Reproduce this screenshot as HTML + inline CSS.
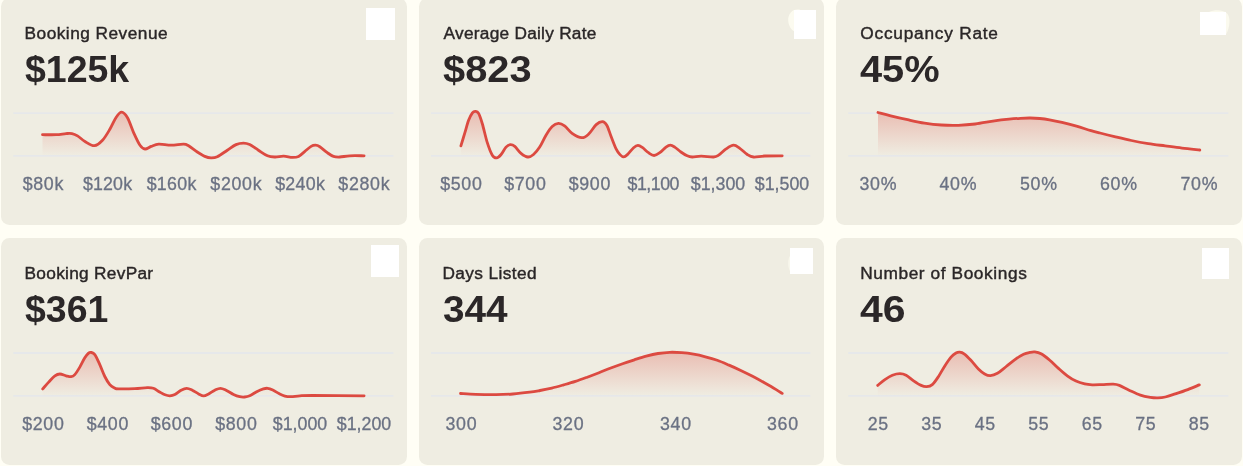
<!DOCTYPE html>
<html lang="en"><head><meta charset="utf-8"><title>Booking metrics</title>
<style>
html,body{margin:0;padding:0}
body{width:1243px;height:466px;overflow:hidden;background:#fffef5;position:relative;font-family:"Liberation Sans",sans-serif}
.card{position:absolute;background:#efede2;border-radius:8.5px;width:405.3px;height:227.0px}
.t{position:absolute;white-space:nowrap;color:#2a2627;font-size:17.3px;letter-spacing:.3px;line-height:20px;-webkit-text-stroke:.4px #2a2627}
.v{position:absolute;white-space:nowrap;color:#2b2728;font-size:36.7px;font-weight:700!important;line-height:40px;transform-origin:0 50%}
.k{position:absolute;white-space:nowrap;color:#6a7183;font-size:17.8px;letter-spacing:.7px;margin-left:.35px;line-height:20px;transform:translateX(-50%);-webkit-text-stroke:.3px #6a7183}
.b{position:absolute;background:#fff}
svg{position:absolute;left:0;top:0;overflow:visible}
h3,p{margin:0;font-weight:400}
</style></head><body>
<section class="card" style="left:1.3px;top:-2.3px;width:405.6px">
<h3 class="t" style="left:23.28px;top:24.9px;letter-spacing:0.47px">Booking Revenue</h3>
<p class="v" style="left:24.15px;top:52.7px;transform:scaleX(1.0210)">$125k</p>
<svg class="chart" style="left:-0.3px;top:-0.7px" width="407" height="228" viewBox="1 -3 407 228">
<defs><linearGradient id="g0" gradientUnits="userSpaceOnUse" x1="0" y1="111" x2="0" y2="156"><stop offset="0" stop-color="#dc4a41" stop-opacity=".30"/><stop offset="1" stop-color="#dc4a41" stop-opacity="0"/></linearGradient></defs>
<path d="M13.3,113.1H393.5M13.3,155.9H393.5" stroke="#e3e6ed" stroke-width="1.3" fill="none"/>
<path d="M42.50,134.70C44.78,134.70 52.28,134.88 56.20,134.70C60.12,134.52 63.37,133.78 66.00,133.60C68.63,133.42 70.08,133.22 72.00,133.60C73.92,133.98 75.33,134.58 77.50,135.90C79.67,137.22 82.18,139.87 85.00,141.50C87.82,143.13 91.48,145.90 94.40,145.70C97.32,145.50 99.90,143.08 102.50,140.30C105.10,137.52 107.72,132.85 110.00,129.00C112.28,125.15 114.27,120.00 116.20,117.20C118.13,114.40 119.72,112.10 121.60,112.20C123.48,112.30 125.48,114.37 127.50,117.80C129.52,121.23 131.62,128.22 133.70,132.80C135.78,137.38 138.12,142.60 140.00,145.30C141.88,148.00 143.13,148.82 145.00,149.00C146.87,149.18 148.92,147.20 151.20,146.40C153.48,145.60 155.38,144.40 158.70,144.20C162.02,144.00 166.95,145.20 171.10,145.20C175.25,145.20 180.68,144.10 183.60,144.20C186.52,144.30 186.32,144.50 188.60,145.80C190.88,147.10 194.60,150.23 197.30,152.00C200.00,153.77 202.52,155.42 204.80,156.40C207.08,157.38 208.92,157.85 211.00,157.90C213.08,157.95 214.58,157.98 217.30,156.70C220.02,155.42 224.18,152.22 227.30,150.20C230.42,148.18 233.30,145.78 236.00,144.60C238.70,143.42 241.22,143.10 243.50,143.10C245.78,143.10 247.22,143.42 249.70,144.60C252.18,145.78 255.43,148.33 258.40,150.20C261.37,152.07 264.73,154.67 267.50,155.80C270.27,156.93 272.30,156.93 275.00,157.00C277.70,157.07 280.80,156.13 283.70,156.20C286.60,156.27 289.92,157.37 292.40,157.40C294.88,157.43 296.52,157.40 298.60,156.40C300.68,155.40 302.82,153.07 304.90,151.40C306.98,149.73 309.33,147.43 311.10,146.40C312.87,145.37 314.05,145.15 315.50,145.20C316.95,145.25 317.83,145.45 319.80,146.70C321.77,147.95 325.02,151.08 327.30,152.70C329.58,154.32 331.42,155.68 333.50,156.40C335.58,157.12 337.08,157.10 339.80,157.00C342.52,156.90 345.75,156.00 349.80,155.80C353.85,155.60 361.72,155.80 364.10,155.80L364.10,156.90L42.50,156.90Z" fill="url(#g0)"/>
<path d="M42.50,134.70C44.78,134.70 52.28,134.88 56.20,134.70C60.12,134.52 63.37,133.78 66.00,133.60C68.63,133.42 70.08,133.22 72.00,133.60C73.92,133.98 75.33,134.58 77.50,135.90C79.67,137.22 82.18,139.87 85.00,141.50C87.82,143.13 91.48,145.90 94.40,145.70C97.32,145.50 99.90,143.08 102.50,140.30C105.10,137.52 107.72,132.85 110.00,129.00C112.28,125.15 114.27,120.00 116.20,117.20C118.13,114.40 119.72,112.10 121.60,112.20C123.48,112.30 125.48,114.37 127.50,117.80C129.52,121.23 131.62,128.22 133.70,132.80C135.78,137.38 138.12,142.60 140.00,145.30C141.88,148.00 143.13,148.82 145.00,149.00C146.87,149.18 148.92,147.20 151.20,146.40C153.48,145.60 155.38,144.40 158.70,144.20C162.02,144.00 166.95,145.20 171.10,145.20C175.25,145.20 180.68,144.10 183.60,144.20C186.52,144.30 186.32,144.50 188.60,145.80C190.88,147.10 194.60,150.23 197.30,152.00C200.00,153.77 202.52,155.42 204.80,156.40C207.08,157.38 208.92,157.85 211.00,157.90C213.08,157.95 214.58,157.98 217.30,156.70C220.02,155.42 224.18,152.22 227.30,150.20C230.42,148.18 233.30,145.78 236.00,144.60C238.70,143.42 241.22,143.10 243.50,143.10C245.78,143.10 247.22,143.42 249.70,144.60C252.18,145.78 255.43,148.33 258.40,150.20C261.37,152.07 264.73,154.67 267.50,155.80C270.27,156.93 272.30,156.93 275.00,157.00C277.70,157.07 280.80,156.13 283.70,156.20C286.60,156.27 289.92,157.37 292.40,157.40C294.88,157.43 296.52,157.40 298.60,156.40C300.68,155.40 302.82,153.07 304.90,151.40C306.98,149.73 309.33,147.43 311.10,146.40C312.87,145.37 314.05,145.15 315.50,145.20C316.95,145.25 317.83,145.45 319.80,146.70C321.77,147.95 325.02,151.08 327.30,152.70C329.58,154.32 331.42,155.68 333.50,156.40C335.58,157.12 337.08,157.10 339.80,157.00C342.52,156.90 345.75,156.00 349.80,155.80C353.85,155.60 361.72,155.80 364.10,155.80" fill="none" stroke="#dc4a41" stroke-width="2.8" stroke-linecap="round" stroke-linejoin="round"/>
</svg>
<span class="k" style="left:41.7px;top:176.7px">$80k</span>
<span class="k" style="left:106.2px;top:176.7px;letter-spacing:.15px;margin-left:.1px">$120k</span>
<span class="k" style="left:170.2px;top:176.7px;letter-spacing:.3px;margin-left:.15px">$160k</span>
<span class="k" style="left:234.7px;top:176.7px">$200k</span>
<span class="k" style="left:298.7px;top:176.7px;letter-spacing:.3px;margin-left:.15px">$240k</span>
<span class="k" style="left:362.7px;top:176.7px">$280k</span>
<div class="b" style="left:364.6px;top:10.1px;width:29.2px;height:32.1px"></div>
</section>
<section class="card" style="left:419.0px;top:-2.3px;width:404.8px">
<h3 class="t" style="left:24.58px;top:24.9px;letter-spacing:0.25px">Average Daily Rate</h3>
<p class="v" style="left:24.30px;top:52.7px;transform:scaleX(1.0852)">$823</p>
<svg class="chart" style="left:0.0px;top:-0.7px" width="406" height="228" viewBox="419 -3 406 228">
<defs><linearGradient id="g1" gradientUnits="userSpaceOnUse" x1="0" y1="111" x2="0" y2="156"><stop offset="0" stop-color="#dc4a41" stop-opacity=".30"/><stop offset="1" stop-color="#dc4a41" stop-opacity="0"/></linearGradient></defs>
<path d="M431.0,113.1H810.4M431.0,155.9H810.4" stroke="#e3e6ed" stroke-width="1.3" fill="none"/>
<path d="M460.90,145.80C461.57,143.62 463.62,136.95 464.90,132.70C466.18,128.45 467.35,123.62 468.60,120.30C469.85,116.98 471.25,114.30 472.40,112.80C473.55,111.30 474.47,111.20 475.50,111.30C476.53,111.40 477.45,111.28 478.60,113.40C479.75,115.52 480.95,119.12 482.40,124.00C483.85,128.88 485.65,137.50 487.30,142.70C488.95,147.90 490.73,152.67 492.30,155.20C493.87,157.73 495.23,158.02 496.70,157.90C498.17,157.78 499.55,156.30 501.10,154.50C502.65,152.70 504.45,148.75 506.00,147.10C507.55,145.45 508.93,144.72 510.40,144.60C511.87,144.48 513.03,144.95 514.80,146.40C516.57,147.85 518.82,151.53 521.00,153.30C523.18,155.07 525.82,156.80 527.90,157.00C529.98,157.20 531.53,156.15 533.50,154.50C535.47,152.85 537.62,150.32 539.70,147.10C541.78,143.88 543.92,138.63 546.00,135.20C548.08,131.77 550.13,128.47 552.20,126.50C554.27,124.53 556.33,123.50 558.40,123.40C560.47,123.30 562.32,124.25 564.60,125.90C566.88,127.55 569.23,131.33 572.10,133.30C574.97,135.27 579.03,137.58 581.80,137.70C584.57,137.82 586.30,136.18 588.70,134.00C591.10,131.82 593.92,126.65 596.20,124.60C598.48,122.55 600.63,121.60 602.40,121.70C604.17,121.80 605.35,122.73 606.80,125.20C608.25,127.67 609.55,132.55 611.10,136.50C612.65,140.45 614.62,145.88 616.10,148.90C617.58,151.92 618.73,153.27 620.00,154.60C621.27,155.93 622.47,156.90 623.70,156.90C624.93,156.90 625.75,156.13 627.40,154.60C629.05,153.07 631.85,149.23 633.60,147.70C635.35,146.17 636.45,145.45 637.90,145.40C639.35,145.35 640.53,146.18 642.30,147.40C644.07,148.62 646.53,151.35 648.50,152.70C650.47,154.05 652.22,155.50 654.10,155.50C655.98,155.50 657.82,154.10 659.80,152.70C661.78,151.30 664.25,148.35 666.00,147.10C667.75,145.85 668.85,145.20 670.30,145.20C671.75,145.20 672.93,145.97 674.70,147.10C676.47,148.23 678.82,150.55 680.90,152.00C682.98,153.45 685.32,154.97 687.20,155.80C689.08,156.63 689.87,156.93 692.20,157.00C694.53,157.07 697.63,156.20 701.20,156.20C704.77,156.20 710.70,157.17 713.60,157.00C716.50,156.83 716.52,156.55 718.60,155.20C720.68,153.85 723.60,150.57 726.10,148.90C728.60,147.23 731.32,145.30 733.60,145.20C735.88,145.10 737.52,146.75 739.80,148.30C742.08,149.85 745.02,153.05 747.30,154.50C749.58,155.95 750.58,156.75 753.50,157.00C756.42,157.25 760.02,156.20 764.80,156.00C769.58,155.80 779.30,155.83 782.20,155.80L782.20,156.90L460.90,156.90Z" fill="url(#g1)"/>
<path d="M460.90,145.80C461.57,143.62 463.62,136.95 464.90,132.70C466.18,128.45 467.35,123.62 468.60,120.30C469.85,116.98 471.25,114.30 472.40,112.80C473.55,111.30 474.47,111.20 475.50,111.30C476.53,111.40 477.45,111.28 478.60,113.40C479.75,115.52 480.95,119.12 482.40,124.00C483.85,128.88 485.65,137.50 487.30,142.70C488.95,147.90 490.73,152.67 492.30,155.20C493.87,157.73 495.23,158.02 496.70,157.90C498.17,157.78 499.55,156.30 501.10,154.50C502.65,152.70 504.45,148.75 506.00,147.10C507.55,145.45 508.93,144.72 510.40,144.60C511.87,144.48 513.03,144.95 514.80,146.40C516.57,147.85 518.82,151.53 521.00,153.30C523.18,155.07 525.82,156.80 527.90,157.00C529.98,157.20 531.53,156.15 533.50,154.50C535.47,152.85 537.62,150.32 539.70,147.10C541.78,143.88 543.92,138.63 546.00,135.20C548.08,131.77 550.13,128.47 552.20,126.50C554.27,124.53 556.33,123.50 558.40,123.40C560.47,123.30 562.32,124.25 564.60,125.90C566.88,127.55 569.23,131.33 572.10,133.30C574.97,135.27 579.03,137.58 581.80,137.70C584.57,137.82 586.30,136.18 588.70,134.00C591.10,131.82 593.92,126.65 596.20,124.60C598.48,122.55 600.63,121.60 602.40,121.70C604.17,121.80 605.35,122.73 606.80,125.20C608.25,127.67 609.55,132.55 611.10,136.50C612.65,140.45 614.62,145.88 616.10,148.90C617.58,151.92 618.73,153.27 620.00,154.60C621.27,155.93 622.47,156.90 623.70,156.90C624.93,156.90 625.75,156.13 627.40,154.60C629.05,153.07 631.85,149.23 633.60,147.70C635.35,146.17 636.45,145.45 637.90,145.40C639.35,145.35 640.53,146.18 642.30,147.40C644.07,148.62 646.53,151.35 648.50,152.70C650.47,154.05 652.22,155.50 654.10,155.50C655.98,155.50 657.82,154.10 659.80,152.70C661.78,151.30 664.25,148.35 666.00,147.10C667.75,145.85 668.85,145.20 670.30,145.20C671.75,145.20 672.93,145.97 674.70,147.10C676.47,148.23 678.82,150.55 680.90,152.00C682.98,153.45 685.32,154.97 687.20,155.80C689.08,156.63 689.87,156.93 692.20,157.00C694.53,157.07 697.63,156.20 701.20,156.20C704.77,156.20 710.70,157.17 713.60,157.00C716.50,156.83 716.52,156.55 718.60,155.20C720.68,153.85 723.60,150.57 726.10,148.90C728.60,147.23 731.32,145.30 733.60,145.20C735.88,145.10 737.52,146.75 739.80,148.30C742.08,149.85 745.02,153.05 747.30,154.50C749.58,155.95 750.58,156.75 753.50,157.00C756.42,157.25 760.02,156.20 764.80,156.00C769.58,155.80 779.30,155.83 782.20,155.80" fill="none" stroke="#dc4a41" stroke-width="2.8" stroke-linecap="round" stroke-linejoin="round"/>
<path d="M800.5,9.7C794,7.6 788,13 788.2,20.2C788.4,25.4 791,29.6 794.6,31.6L794.6,9.7Z" fill="#fcfbf0"/>
</svg>
<span class="k" style="left:42.0px;top:176.7px">$500</span>
<span class="k" style="left:106.0px;top:176.7px">$700</span>
<span class="k" style="left:170.5px;top:176.7px">$900</span>
<span class="k" style="left:234.5px;top:176.7px;letter-spacing:-.5px;margin-left:-.25px">$1,100</span>
<span class="k" style="left:299.0px;top:176.7px;letter-spacing:0;margin-left:0">$1,300</span>
<span class="k" style="left:363.0px;top:176.7px;letter-spacing:0;margin-left:0">$1,500</span>
<div class="b" style="left:375.3px;top:12.0px;width:21.7px;height:29.2px"></div>
</section>
<section class="card" style="left:836.3px;top:-2.3px;width:405.5px">
<h3 class="t" style="left:24.03px;top:24.9px;letter-spacing:0.76px">Occupancy Rate</h3>
<p class="v" style="left:23.98px;top:52.7px;transform:scaleX(1.0836)">45%</p>
<svg class="chart" style="left:-0.3px;top:-0.7px" width="407" height="228" viewBox="836 -3 407 228">
<defs><linearGradient id="g2" gradientUnits="userSpaceOnUse" x1="0" y1="111" x2="0" y2="156"><stop offset="0" stop-color="#dc4a41" stop-opacity=".30"/><stop offset="1" stop-color="#dc4a41" stop-opacity="0"/></linearGradient></defs>
<path d="M848.3,113.1H1228.4M848.3,155.9H1228.4" stroke="#e3e6ed" stroke-width="1.3" fill="none"/>
<path d="M878.00,112.50C880.12,113.05 885.77,114.60 890.70,115.80C895.63,117.00 901.97,118.48 907.60,119.70C913.23,120.92 918.87,122.22 924.50,123.10C930.13,123.98 935.77,124.63 941.40,125.00C947.03,125.37 952.67,125.47 958.30,125.30C963.93,125.13 969.17,124.73 975.20,124.00C981.23,123.27 988.87,121.70 994.50,120.90C1000.13,120.10 1004.67,119.63 1009.00,119.20C1013.33,118.77 1016.97,118.50 1020.50,118.30C1024.03,118.10 1026.98,117.97 1030.20,118.00C1033.42,118.03 1036.58,118.20 1039.80,118.50C1043.02,118.80 1045.80,119.15 1049.50,119.80C1053.20,120.45 1057.50,121.33 1062.00,122.40C1066.50,123.47 1071.67,124.83 1076.50,126.20C1081.33,127.57 1087.08,129.47 1091.00,130.60C1094.92,131.73 1096.08,132.00 1100.00,133.00C1103.92,134.00 1109.27,135.35 1114.50,136.60C1119.73,137.85 1125.77,139.33 1131.40,140.50C1137.03,141.67 1142.67,142.70 1148.30,143.60C1153.93,144.50 1159.58,145.15 1165.20,145.90C1170.82,146.65 1176.23,147.42 1182.00,148.10C1187.77,148.78 1196.83,149.68 1199.80,150.00L1199.80,156.90L878.00,156.90Z" fill="url(#g2)"/>
<path d="M878.00,112.50C880.12,113.05 885.77,114.60 890.70,115.80C895.63,117.00 901.97,118.48 907.60,119.70C913.23,120.92 918.87,122.22 924.50,123.10C930.13,123.98 935.77,124.63 941.40,125.00C947.03,125.37 952.67,125.47 958.30,125.30C963.93,125.13 969.17,124.73 975.20,124.00C981.23,123.27 988.87,121.70 994.50,120.90C1000.13,120.10 1004.67,119.63 1009.00,119.20C1013.33,118.77 1016.97,118.50 1020.50,118.30C1024.03,118.10 1026.98,117.97 1030.20,118.00C1033.42,118.03 1036.58,118.20 1039.80,118.50C1043.02,118.80 1045.80,119.15 1049.50,119.80C1053.20,120.45 1057.50,121.33 1062.00,122.40C1066.50,123.47 1071.67,124.83 1076.50,126.20C1081.33,127.57 1087.08,129.47 1091.00,130.60C1094.92,131.73 1096.08,132.00 1100.00,133.00C1103.92,134.00 1109.27,135.35 1114.50,136.60C1119.73,137.85 1125.77,139.33 1131.40,140.50C1137.03,141.67 1142.67,142.70 1148.30,143.60C1153.93,144.50 1159.58,145.15 1165.20,145.90C1170.82,146.65 1176.23,147.42 1182.00,148.10C1187.77,148.78 1196.83,149.68 1199.80,150.00" fill="none" stroke="#dc4a41" stroke-width="2.8" stroke-linecap="round" stroke-linejoin="round"/>
<path d="M1209,11.9C1215,9.2 1224,9.6 1227.6,14C1230.6,18 1230,27.5 1226.2,34.2L1225.6,11.9Z" fill="#fbfaee"/>
</svg>
<span class="k" style="left:41.7px;top:176.7px">30%</span>
<span class="k" style="left:121.7px;top:176.7px">40%</span>
<span class="k" style="left:202.2px;top:176.7px">50%</span>
<span class="k" style="left:282.2px;top:176.7px">60%</span>
<span class="k" style="left:362.7px;top:176.7px">70%</span>
<div class="b" style="left:363.7px;top:14.1px;width:25.9px;height:23.1px"></div>
</section>
<section class="card" style="left:1.3px;top:237.5px;width:405.6px">
<h3 class="t" style="left:23.28px;top:25.1px;letter-spacing:0.28px">Booking RevPar</h3>
<p class="v" style="left:24.15px;top:52.9px;transform:scaleX(1.0204)">$361</p>
<svg class="chart" style="left:-0.3px;top:-0.5px" width="407" height="228" viewBox="1 237 407 228">
<defs><linearGradient id="g3" gradientUnits="userSpaceOnUse" x1="0" y1="351" x2="0" y2="396"><stop offset="0" stop-color="#dc4a41" stop-opacity=".30"/><stop offset="1" stop-color="#dc4a41" stop-opacity="0"/></linearGradient></defs>
<path d="M13.3,353.0H393.5M13.3,395.8H393.5" stroke="#e3e6ed" stroke-width="1.3" fill="none"/>
<path d="M42.70,388.90C43.70,387.77 46.67,384.28 48.70,382.10C50.73,379.92 53.03,377.15 54.90,375.80C56.77,374.45 58.03,374.00 59.90,374.00C61.77,374.00 64.23,375.35 66.10,375.80C67.97,376.25 69.65,376.90 71.10,376.70C72.55,376.50 73.35,376.20 74.80,374.60C76.25,373.00 78.13,369.90 79.80,367.10C81.47,364.30 83.33,360.13 84.80,357.80C86.27,355.47 87.57,354.00 88.60,353.10C89.63,352.20 89.97,352.15 91.00,352.40C92.03,352.65 93.33,352.57 94.80,354.60C96.27,356.63 98.13,360.95 99.80,364.60C101.47,368.25 103.13,373.17 104.80,376.50C106.47,379.83 108.15,382.67 109.80,384.60C111.45,386.53 113.25,387.38 114.70,388.10C116.15,388.82 115.17,388.80 118.50,388.90C121.83,389.00 129.92,388.90 134.70,388.70C139.48,388.50 144.08,387.77 147.20,387.70C150.32,387.63 151.33,387.58 153.40,388.30C155.47,389.02 157.67,390.92 159.60,392.00C161.53,393.08 163.28,394.17 165.00,394.80C166.72,395.43 168.25,395.85 169.90,395.80C171.55,395.75 173.03,395.43 174.90,394.50C176.77,393.57 179.13,391.23 181.10,390.20C183.07,389.17 184.83,388.30 186.70,388.30C188.57,388.30 190.32,389.27 192.30,390.20C194.28,391.13 196.72,392.97 198.60,393.90C200.48,394.83 201.93,395.80 203.60,395.80C205.27,395.80 206.73,394.83 208.60,393.90C210.47,392.97 212.83,391.13 214.80,390.20C216.77,389.27 218.53,388.30 220.40,388.30C222.27,388.30 223.82,389.17 226.00,390.20C228.18,391.23 231.22,393.42 233.50,394.50C235.78,395.58 237.83,396.28 239.70,396.70C241.57,397.12 243.03,397.15 244.70,397.00C246.37,396.85 247.62,396.73 249.70,395.80C251.78,394.87 254.92,392.55 257.20,391.40C259.48,390.25 261.67,389.42 263.40,388.90C265.13,388.38 266.03,388.12 267.60,388.30C269.17,388.48 270.90,389.12 272.80,390.00C274.70,390.88 276.98,392.58 279.00,393.60C281.02,394.62 282.88,395.58 284.90,396.10C286.92,396.62 288.60,396.75 291.10,396.70C293.60,396.65 296.37,396.00 299.90,395.80C303.43,395.60 301.60,395.50 312.30,395.50C323.00,395.50 355.47,395.75 364.10,395.80L364.10,396.80L42.70,396.80Z" fill="url(#g3)"/>
<path d="M42.70,388.90C43.70,387.77 46.67,384.28 48.70,382.10C50.73,379.92 53.03,377.15 54.90,375.80C56.77,374.45 58.03,374.00 59.90,374.00C61.77,374.00 64.23,375.35 66.10,375.80C67.97,376.25 69.65,376.90 71.10,376.70C72.55,376.50 73.35,376.20 74.80,374.60C76.25,373.00 78.13,369.90 79.80,367.10C81.47,364.30 83.33,360.13 84.80,357.80C86.27,355.47 87.57,354.00 88.60,353.10C89.63,352.20 89.97,352.15 91.00,352.40C92.03,352.65 93.33,352.57 94.80,354.60C96.27,356.63 98.13,360.95 99.80,364.60C101.47,368.25 103.13,373.17 104.80,376.50C106.47,379.83 108.15,382.67 109.80,384.60C111.45,386.53 113.25,387.38 114.70,388.10C116.15,388.82 115.17,388.80 118.50,388.90C121.83,389.00 129.92,388.90 134.70,388.70C139.48,388.50 144.08,387.77 147.20,387.70C150.32,387.63 151.33,387.58 153.40,388.30C155.47,389.02 157.67,390.92 159.60,392.00C161.53,393.08 163.28,394.17 165.00,394.80C166.72,395.43 168.25,395.85 169.90,395.80C171.55,395.75 173.03,395.43 174.90,394.50C176.77,393.57 179.13,391.23 181.10,390.20C183.07,389.17 184.83,388.30 186.70,388.30C188.57,388.30 190.32,389.27 192.30,390.20C194.28,391.13 196.72,392.97 198.60,393.90C200.48,394.83 201.93,395.80 203.60,395.80C205.27,395.80 206.73,394.83 208.60,393.90C210.47,392.97 212.83,391.13 214.80,390.20C216.77,389.27 218.53,388.30 220.40,388.30C222.27,388.30 223.82,389.17 226.00,390.20C228.18,391.23 231.22,393.42 233.50,394.50C235.78,395.58 237.83,396.28 239.70,396.70C241.57,397.12 243.03,397.15 244.70,397.00C246.37,396.85 247.62,396.73 249.70,395.80C251.78,394.87 254.92,392.55 257.20,391.40C259.48,390.25 261.67,389.42 263.40,388.90C265.13,388.38 266.03,388.12 267.60,388.30C269.17,388.48 270.90,389.12 272.80,390.00C274.70,390.88 276.98,392.58 279.00,393.60C281.02,394.62 282.88,395.58 284.90,396.10C286.92,396.62 288.60,396.75 291.10,396.70C293.60,396.65 296.37,396.00 299.90,395.80C303.43,395.60 301.60,395.50 312.30,395.50C323.00,395.50 355.47,395.75 364.10,395.80" fill="none" stroke="#dc4a41" stroke-width="2.8" stroke-linecap="round" stroke-linejoin="round"/>
</svg>
<span class="k" style="left:41.7px;top:176.9px">$200</span>
<span class="k" style="left:106.2px;top:176.9px">$400</span>
<span class="k" style="left:170.2px;top:176.9px">$600</span>
<span class="k" style="left:234.7px;top:176.9px">$800</span>
<span class="k" style="left:298.7px;top:176.9px;letter-spacing:0;margin-left:0">$1,000</span>
<span class="k" style="left:362.7px;top:176.9px;letter-spacing:0;margin-left:0">$1,200</span>
<div class="b" style="left:369.6px;top:7.2px;width:28.6px;height:32.4px"></div>
</section>
<section class="card" style="left:419.0px;top:237.5px;width:404.8px">
<h3 class="t" style="left:23.48px;top:25.1px;letter-spacing:0.39px">Days Listed</h3>
<p class="v" style="left:23.55px;top:52.9px;transform:scaleX(1.0560)">344</p>
<svg class="chart" style="left:0.0px;top:-0.5px" width="406" height="228" viewBox="419 237 406 228">
<defs><linearGradient id="g4" gradientUnits="userSpaceOnUse" x1="0" y1="351" x2="0" y2="396"><stop offset="0" stop-color="#dc4a41" stop-opacity=".30"/><stop offset="1" stop-color="#dc4a41" stop-opacity="0"/></linearGradient></defs>
<path d="M431.0,353.0H810.4M431.0,395.8H810.4" stroke="#e3e6ed" stroke-width="1.3" fill="none"/>
<path d="M460.50,393.50C463.03,393.65 469.78,394.20 475.70,394.40C481.62,394.60 489.80,394.77 496.00,394.70C502.20,394.63 507.28,394.42 512.90,394.00C518.52,393.58 525.18,392.78 529.70,392.20C534.22,391.62 536.32,391.18 540.00,390.50C543.68,389.82 547.87,389.03 551.80,388.10C555.73,387.17 559.67,386.02 563.60,384.90C567.53,383.78 571.47,382.68 575.40,381.40C579.33,380.12 583.27,378.65 587.20,377.20C591.13,375.75 595.07,374.23 599.00,372.70C602.93,371.17 606.87,369.50 610.80,368.00C614.73,366.50 618.67,365.07 622.60,363.70C626.53,362.33 630.47,361.05 634.40,359.80C638.33,358.55 642.27,357.25 646.20,356.20C650.13,355.15 654.07,354.15 658.00,353.50C661.93,352.85 665.83,352.43 669.80,352.30C673.77,352.17 677.83,352.38 681.80,352.70C685.77,353.02 689.67,353.52 693.60,354.20C697.53,354.88 701.47,355.78 705.40,356.80C709.33,357.82 713.27,358.92 717.20,360.30C721.13,361.68 725.07,363.42 729.00,365.10C732.93,366.78 736.87,368.53 740.80,370.40C744.73,372.27 748.67,374.23 752.60,376.30C756.53,378.37 760.47,380.58 764.40,382.80C768.33,385.02 773.23,387.83 776.20,389.60C779.17,391.37 781.20,392.77 782.20,393.40L782.20,396.80L460.50,396.80Z" fill="url(#g4)"/>
<path d="M460.50,393.50C463.03,393.65 469.78,394.20 475.70,394.40C481.62,394.60 489.80,394.77 496.00,394.70C502.20,394.63 507.28,394.42 512.90,394.00C518.52,393.58 525.18,392.78 529.70,392.20C534.22,391.62 536.32,391.18 540.00,390.50C543.68,389.82 547.87,389.03 551.80,388.10C555.73,387.17 559.67,386.02 563.60,384.90C567.53,383.78 571.47,382.68 575.40,381.40C579.33,380.12 583.27,378.65 587.20,377.20C591.13,375.75 595.07,374.23 599.00,372.70C602.93,371.17 606.87,369.50 610.80,368.00C614.73,366.50 618.67,365.07 622.60,363.70C626.53,362.33 630.47,361.05 634.40,359.80C638.33,358.55 642.27,357.25 646.20,356.20C650.13,355.15 654.07,354.15 658.00,353.50C661.93,352.85 665.83,352.43 669.80,352.30C673.77,352.17 677.83,352.38 681.80,352.70C685.77,353.02 689.67,353.52 693.60,354.20C697.53,354.88 701.47,355.78 705.40,356.80C709.33,357.82 713.27,358.92 717.20,360.30C721.13,361.68 725.07,363.42 729.00,365.10C732.93,366.78 736.87,368.53 740.80,370.40C744.73,372.27 748.67,374.23 752.60,376.30C756.53,378.37 760.47,380.58 764.40,382.80C768.33,385.02 773.23,387.83 776.20,389.60C779.17,391.37 781.20,392.77 782.20,393.40" fill="none" stroke="#dc4a41" stroke-width="2.8" stroke-linecap="round" stroke-linejoin="round"/>
<path d="M790.2,255.5C787.6,259 787.4,267 790.2,271.5Z" fill="#f8f7ec"/>
</svg>
<span class="k" style="left:42.0px;top:176.9px">300</span>
<span class="k" style="left:149.0px;top:176.9px">320</span>
<span class="k" style="left:256.5px;top:176.9px">340</span>
<span class="k" style="left:363.5px;top:176.9px">360</span>
<div class="b" style="left:370.9px;top:10.4px;width:23.4px;height:26.0px"></div>
</section>
<section class="card" style="left:836.3px;top:237.5px;width:405.5px">
<h3 class="t" style="left:23.88px;top:25.1px;letter-spacing:0.59px">Number of Bookings</h3>
<p class="v" style="left:23.97px;top:52.9px;transform:scaleX(1.1146)">46</p>
<svg class="chart" style="left:-0.3px;top:-0.5px" width="407" height="228" viewBox="836 237 407 228">
<defs><linearGradient id="g5" gradientUnits="userSpaceOnUse" x1="0" y1="351" x2="0" y2="396"><stop offset="0" stop-color="#dc4a41" stop-opacity=".30"/><stop offset="1" stop-color="#dc4a41" stop-opacity="0"/></linearGradient></defs>
<path d="M848.3,353.0H1228.4M848.3,395.8H1228.4" stroke="#e3e6ed" stroke-width="1.3" fill="none"/>
<path d="M877.70,385.40C878.90,384.43 882.45,381.30 884.90,379.60C887.35,377.90 889.90,376.20 892.40,375.20C894.90,374.20 897.62,373.60 899.90,373.60C902.18,373.60 903.82,374.00 906.10,375.20C908.38,376.40 911.10,379.10 913.60,380.80C916.10,382.50 918.92,384.42 921.10,385.40C923.28,386.38 924.83,386.83 926.70,386.70C928.57,386.57 930.33,386.30 932.30,384.60C934.27,382.90 936.42,379.62 938.50,376.50C940.58,373.38 942.72,369.13 944.80,365.90C946.88,362.67 949.13,359.25 951.00,357.10C952.87,354.95 954.55,353.83 956.00,353.00C957.45,352.17 958.35,351.97 959.70,352.10C961.05,352.23 962.23,352.45 964.10,353.80C965.97,355.15 968.52,357.67 970.90,360.20C973.28,362.73 976.10,366.70 978.40,369.00C980.70,371.30 982.70,372.88 984.70,374.00C986.70,375.12 988.28,375.82 990.40,375.70C992.52,375.58 994.77,374.83 997.40,373.30C1000.03,371.77 1003.28,368.78 1006.20,366.50C1009.12,364.22 1012.00,361.63 1014.90,359.60C1017.80,357.57 1021.10,355.50 1023.60,354.30C1026.10,353.10 1028.03,352.80 1029.90,352.40C1031.77,352.00 1032.93,351.67 1034.80,351.90C1036.67,352.13 1038.60,352.42 1041.10,353.80C1043.60,355.18 1046.90,357.77 1049.80,360.20C1052.70,362.63 1055.58,365.80 1058.50,368.40C1061.42,371.00 1064.38,373.68 1067.30,375.80C1070.22,377.92 1073.10,379.75 1076.00,381.10C1078.90,382.45 1082.00,383.28 1084.70,383.90C1087.40,384.52 1089.28,384.68 1092.20,384.80C1095.12,384.92 1098.70,384.70 1102.20,384.60C1105.70,384.50 1110.33,384.07 1113.20,384.20C1116.07,384.33 1116.75,384.40 1119.40,385.40C1122.05,386.40 1125.60,388.57 1129.10,390.20C1132.60,391.83 1136.87,394.00 1140.40,395.20C1143.93,396.40 1147.40,396.95 1150.30,397.40C1153.20,397.85 1155.30,397.97 1157.80,397.90C1160.30,397.83 1162.38,397.67 1165.30,397.00C1168.22,396.33 1171.55,395.13 1175.30,393.90C1179.05,392.67 1183.80,391.10 1187.80,389.60C1191.80,388.10 1197.38,385.68 1199.30,384.90L1199.30,396.80L877.70,396.80Z" fill="url(#g5)"/>
<path d="M877.70,385.40C878.90,384.43 882.45,381.30 884.90,379.60C887.35,377.90 889.90,376.20 892.40,375.20C894.90,374.20 897.62,373.60 899.90,373.60C902.18,373.60 903.82,374.00 906.10,375.20C908.38,376.40 911.10,379.10 913.60,380.80C916.10,382.50 918.92,384.42 921.10,385.40C923.28,386.38 924.83,386.83 926.70,386.70C928.57,386.57 930.33,386.30 932.30,384.60C934.27,382.90 936.42,379.62 938.50,376.50C940.58,373.38 942.72,369.13 944.80,365.90C946.88,362.67 949.13,359.25 951.00,357.10C952.87,354.95 954.55,353.83 956.00,353.00C957.45,352.17 958.35,351.97 959.70,352.10C961.05,352.23 962.23,352.45 964.10,353.80C965.97,355.15 968.52,357.67 970.90,360.20C973.28,362.73 976.10,366.70 978.40,369.00C980.70,371.30 982.70,372.88 984.70,374.00C986.70,375.12 988.28,375.82 990.40,375.70C992.52,375.58 994.77,374.83 997.40,373.30C1000.03,371.77 1003.28,368.78 1006.20,366.50C1009.12,364.22 1012.00,361.63 1014.90,359.60C1017.80,357.57 1021.10,355.50 1023.60,354.30C1026.10,353.10 1028.03,352.80 1029.90,352.40C1031.77,352.00 1032.93,351.67 1034.80,351.90C1036.67,352.13 1038.60,352.42 1041.10,353.80C1043.60,355.18 1046.90,357.77 1049.80,360.20C1052.70,362.63 1055.58,365.80 1058.50,368.40C1061.42,371.00 1064.38,373.68 1067.30,375.80C1070.22,377.92 1073.10,379.75 1076.00,381.10C1078.90,382.45 1082.00,383.28 1084.70,383.90C1087.40,384.52 1089.28,384.68 1092.20,384.80C1095.12,384.92 1098.70,384.70 1102.20,384.60C1105.70,384.50 1110.33,384.07 1113.20,384.20C1116.07,384.33 1116.75,384.40 1119.40,385.40C1122.05,386.40 1125.60,388.57 1129.10,390.20C1132.60,391.83 1136.87,394.00 1140.40,395.20C1143.93,396.40 1147.40,396.95 1150.30,397.40C1153.20,397.85 1155.30,397.97 1157.80,397.90C1160.30,397.83 1162.38,397.67 1165.30,397.00C1168.22,396.33 1171.55,395.13 1175.30,393.90C1179.05,392.67 1183.80,391.10 1187.80,389.60C1191.80,388.10 1197.38,385.68 1199.30,384.90" fill="none" stroke="#dc4a41" stroke-width="2.8" stroke-linecap="round" stroke-linejoin="round"/>
</svg>
<span class="k" style="left:41.7px;top:176.9px">25</span>
<span class="k" style="left:95.2px;top:176.9px">35</span>
<span class="k" style="left:148.7px;top:176.9px">45</span>
<span class="k" style="left:202.2px;top:176.9px">55</span>
<span class="k" style="left:255.7px;top:176.9px">65</span>
<span class="k" style="left:309.2px;top:176.9px">75</span>
<span class="k" style="left:362.7px;top:176.9px">85</span>
<div class="b" style="left:365.8px;top:10.4px;width:27.1px;height:31.3px"></div>
</section>
</body></html>
